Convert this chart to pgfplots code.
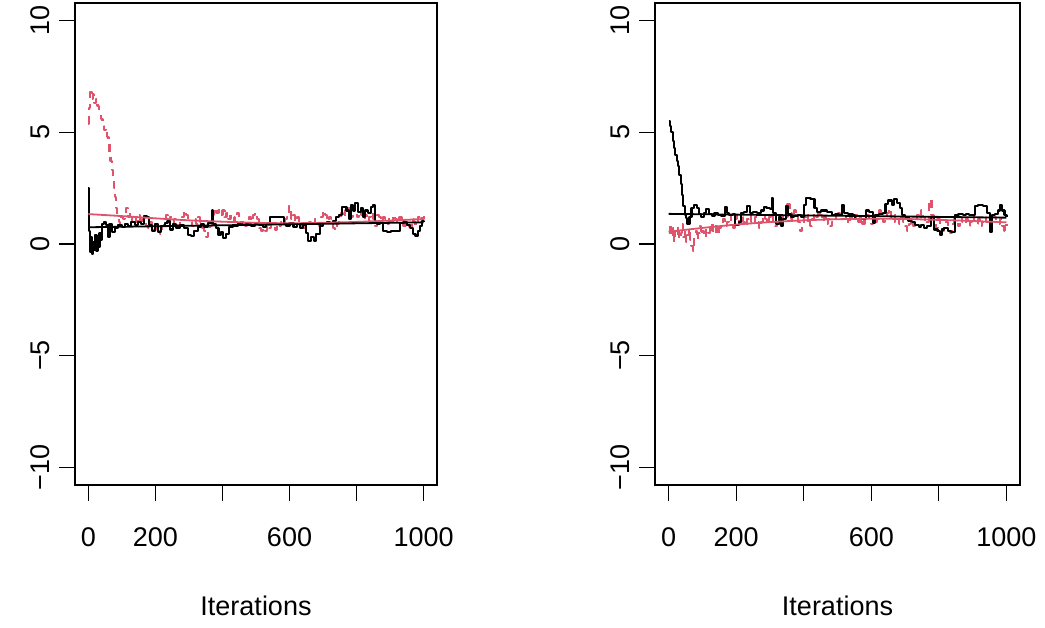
\documentclass[border=0pt]{standalone}
\usepackage{fontspec}
\setmainfont{Liberation Sans}
\usepackage{pgfplots}
\usepackage{pgfplotstable}
\pgfplotsset{compat=1.18}
\definecolor{rred}{HTML}{DF536B}

% chain 1 and chain 2, first parameter
\pgfplotstableread{
it v
0 2.5
2 0.6
4 -0.1
6 -0.35
9 0.3
12 -0.45
15 0.1
18 -0.25
21 0.4
24 -0.3
27 0.15
30 -0.15
33 0.5
37 0.2
40 0.9
46 1.0
52 0.85
58 0.3
63 0.9
70 0.55
78 0.7
88 0.85
100 0.75
108 0.9
118 0.8
128 1.0
138 0.85
148 1.0
158 0.9
166 1.25
176 1.2
182 0.85
190 0.6
198 0.9
208 0.55
216 0.8
228 0.95
236 1.05
244 0.65
252 0.9
262 0.7
272 0.85
285 0.7
296 0.4
306 0.35
316 0.6
326 0.75
336 0.9
346 0.75
356 0.95
368 1.5
372 0.9
380 0.7
388 0.4
396 0.55
402 0.25
410 0.45
420 0.75
432 0.8
446 0.95
458 0.85
470 0.9
484 0.8
496 0.95
508 0.85
520 0.75
530 0.9
543 1.2
583 0.9
590 0.8
600 0.95
612 0.75
622 0.9
630 0.7
640 0.85
650 0.5
656 0.15
664 0.3
672 0.15
680 0.45
690 0.8
700 0.95
712 1.0
722 0.95
730 1.05
740 1.2
748 1.3
756 1.65
770 1.5
778 1.1
784 1.75
790 1.5
796 1.85
804 1.45
812 1.6
820 1.2
826 1.5
834 1.4
844 1.65
850 1.75
856 1.0
862 0.9
870 0.95
880 0.6
892 0.55
904 0.6
918 0.6
930 0.95
940 1.0
950 0.85
960 0.7
968 0.45
976 0.35
982 0.6
988 0.8
994 1.05
1000 1.0
}\leftblack

\pgfplotstableread{
it v
0 5.4
3 6.1
6 6.8
10 6.5
14 6.7
18 6.3
22 6.5
27 6.2
32 5.9
37 5.6
42 5.3
47 5.1
52 5.2
56 4.8
60 4.5
63 4.1
66 3.7
70 3.3
73 2.9
77 2.5
80 2.1
83 1.6
86 1.3
90 1.0
94 0.9
98 1.2
103 1.1
108 1.3
113 1.6
118 1.2
124 1.4
130 1.0
136 1.2
142 1.0
148 1.3
154 0.9
160 1.1
166 1.2
172 0.8
178 0.7
184 1.0
190 0.8
196 0.65
202 0.9
208 0.6
214 0.45
220 0.8
226 1.1
232 1.3
238 1.0
244 1.2
250 0.95
256 1.1
262 1.0
268 0.8
274 1.0
280 1.2
286 1.5
292 1.3
298 1.1
304 1.0
310 0.8
316 1.1
322 0.9
328 1.2
334 1.0
340 0.7
346 0.6
352 0.3
358 0.55
364 0.8
370 1.3
376 1.6
382 1.4
388 1.5
394 1.3
400 1.5
406 1.2
412 1.4
418 1.1
424 1.3
430 1.2
436 1.0
442 1.4
448 1.2
454 0.9
460 1.1
466 0.8
472 1.0
478 1.2
484 1.0
490 1.3
496 1.4
502 1.1
508 0.7
514 0.6
520 0.75
526 0.6
532 0.85
538 0.7
544 0.9
550 0.8
556 0.65
562 0.9
568 0.8
574 1.0
580 0.9
586 1.1
592 1.2
598 1.7
604 1.1
610 1.3
616 1.0
622 1.2
628 0.9
634 0.8
640 0.7
646 0.75
652 0.9
658 1.0
664 0.8
670 0.9
676 1.1
682 1.0
688 0.8
694 1.2
700 1.5
706 1.3
712 1.0
718 1.2
724 1.1
730 0.7
736 0.6
742 0.9
748 1.1
754 1.4
760 1.2
766 1.5
772 1.3
778 1.6
784 1.2
790 1.7
796 1.4
802 1.2
808 1.5
814 1.3
820 1.1
826 1.3
832 1.0
838 1.2
844 1.4
850 1.1
856 0.8
862 1.3
868 1.2
874 1.0
880 1.2
886 1.1
892 0.9
898 1.2
904 1.0
910 1.3
916 1.1
922 0.9
928 1.2
934 1.0
940 0.8
946 0.95
952 0.9
958 0.75
964 1.1
970 1.0
976 0.8
982 1.2
988 1.3
994 1.1
1000 1.25
}\leftred

% chain 1 and chain 2, second parameter
\pgfplotstableread{
it v
0 5.5
4 5.3
8 5.0
12 4.6
16 4.3
20 4.0
24 3.7
28 3.5
32 3.1
36 2.7
40 2.2
44 1.7
48 1.3
52 1.15
56 0.9
62 1.2
68 1.6
76 1.75
84 1.6
90 1.35
96 1.2
104 1.4
112 1.55
120 1.35
128 1.25
136 1.4
146 1.3
156 1.25
166 1.65
174 1.4
180 1.3
190 1.35
198 0.85
208 1.0
214 1.4
224 1.45
232 1.7
240 1.4
250 1.45
262 1.4
274 1.5
282 1.65
290 1.6
300 1.55
305 2.05
310 1.4
318 0.9
326 1.2
334 0.8
340 1.1
348 1.7
354 1.35
362 1.2
372 1.25
384 1.3
392 1.2
400 1.75
408 2.05
420 2.0
432 1.6
440 1.45
452 1.5
470 1.45
484 1.3
494 1.35
504 1.3
514 1.75
520 1.4
530 1.35
545 1.3
552 1.1
570 1.1
584 1.5
594 1.45
604 0.95
612 1.3
622 1.35
634 1.4
642 1.8
650 1.95
660 1.75
668 2.0
676 1.85
684 1.6
690 1.3
700 1.2
710 1.05
720 1.0
730 0.85
740 0.75
748 0.85
756 0.7
766 0.8
776 1.2
786 0.65
796 0.6
804 0.4
810 0.65
816 0.7
826 0.6
836 0.55
848 1.3
858 1.35
870 1.3
880 1.35
890 1.3
906 1.7
916 1.75
930 1.7
942 1.4
950 0.55
958 1.3
966 1.35
976 1.5
982 1.75
988 1.5
994 1.3
1000 1.2
}\rightblack

\pgfplotstableread{
it v
0 0.5
4 0.9
8 0.3
12 0.7
16 0.1
20 0.6
24 0.4
28 0.8
32 0.2
36 0.5
40 0.9
44 0.3
48 0.6
52 0.1
56 0.4
60 0.7
64 0.2
68 -0.1
72 -0.3
76 0.3
80 0.6
84 0.2
88 0.5
92 0.8
96 0.4
100 0.6
106 0.3
112 0.7
118 0.5
124 0.9
130 0.6
136 0.8
142 0.4
148 0.7
154 0.9
160 1.1
166 0.8
172 1.0
178 1.3
184 0.9
190 0.7
196 1.1
202 1.3
208 0.9
214 1.2
220 1.0
226 0.8
232 1.1
238 1.3
244 1.0
250 0.9
256 1.2
262 1.0
268 0.7
274 1.0
280 1.3
286 1.1
292 0.9
298 1.2
304 1.4
310 1.0
316 0.8
322 1.1
328 0.9
334 1.3
340 1.0
346 1.2
352 1.8
358 1.4
364 1.1
370 1.5
376 1.2
382 1.0
388 0.6
394 0.9
400 1.2
406 1.0
412 1.3
418 0.8
424 1.1
430 1.4
436 1.2
442 1.5
448 1.3
454 1.0
460 1.2
466 0.9
472 1.1
478 0.8
484 1.0
490 1.3
496 1.1
502 1.4
508 1.2
514 1.8
520 1.3
526 1.1
532 0.9
538 1.2
544 1.0
550 1.1
556 1.3
562 1.0
568 1.2
574 0.9
580 1.1
586 1.3
592 1.0
598 0.9
604 1.2
610 1.0
616 1.1
622 1.5
628 1.3
634 1.0
640 1.2
646 1.4
652 1.6
658 1.2
664 1.0
670 1.3
676 1.1
682 0.9
688 1.2
694 1.0
700 0.8
706 0.6
712 0.9
718 1.1
724 0.8
730 1.0
736 1.3
742 1.1
748 1.5
754 1.2
760 0.9
766 1.0
772 2.0
778 1.3
784 1.0
790 0.7
796 1.1
802 0.9
808 0.6
814 0.8
820 1.0
826 0.7
832 0.5
838 0.9
844 1.1
850 1.0
856 0.8
862 1.2
868 1.0
874 0.9
880 1.1
886 0.8
892 1.0
898 1.3
904 1.0
910 0.9
916 1.1
922 0.8
928 1.0
934 1.2
940 1.0
946 0.9
952 1.1
958 1.4
964 1.2
970 1.0
976 0.9
982 1.1
988 0.8
994 0.6
1000 0.9
}\rightred

\pgfplotsset{
  traceplot/.style={
    scale only axis, height=482pt,
    xmin=-40, xmax=1040, ymin=-10.8, ymax=10.8,
    axis line style={line width=1.2pt},
    xtick={0,200,400,600,800,1000},
    xticklabels={0,200,,600,,1000},
    ytick={-10,-5,0,5,10},
    yticklabels={−10,−5,0,5,10},
    xtick pos=lower, ytick pos=left,
    tick align=outside, major tick length=16pt,
    every tick/.style={line width=1.2pt, black},
    tick label style={font=\fontsize{27}{32}\selectfont, inner sep=0pt},
    xticklabel style={anchor=north},
    yticklabel style={rotate=90, anchor=south},
    xticklabel shift=26pt,
    yticklabel shift=9pt,
    xlabel={Iterations},
    every axis x label/.style={at={(axis description cs:0.5,0)}, anchor=base,
      yshift=-131pt, inner sep=0pt, font=\fontsize{27}{32}\selectfont},
    clip=true,
  },
  chain/.style={const plot, line width=2.1pt, line join=round},
  fitline/.style={line width=1.8pt},
}

\begin{document}
\begin{tikzpicture}
\path[use as bounding box] (0,0) rectangle (1045pt,628pt);

\begin{axis}[traceplot, width=362pt, at={(75pt,143pt)}, anchor=south west]
  \addplot[chain, rred, dash pattern=on 8pt off 6pt] table[x=it, y=v] {\leftred};
  \addplot[chain, black] table[x=it, y=v] {\leftblack};
  \addplot[fitline, rred, smooth] coordinates {
    (0,1.34) (100,1.25) (200,1.15) (300,1.06) (400,1.00) (500,0.95)
    (600,0.93) (700,0.95) (800,0.99) (900,1.05) (1000,1.12)};
  \addplot[fitline, black] coordinates {(0,0.75) (1000,0.97)};
\end{axis}

\begin{axis}[traceplot, width=365pt, at={(655pt,143pt)}, anchor=south west]
  \addplot[chain, rred, dash pattern=on 8pt off 6pt] table[x=it, y=v] {\rightred};
  \addplot[chain, black] table[x=it, y=v] {\rightblack};
  \addplot[fitline, rred, smooth] coordinates {
    (0,0.55) (100,0.72) (200,0.87) (300,0.98) (400,1.06) (500,1.11)
    (600,1.13) (700,1.12) (800,1.08) (900,1.03) (1000,0.97)};
  \addplot[fitline, black] coordinates {(0,1.35) (1000,1.18)};
\end{axis}
\end{tikzpicture}
\end{document}
